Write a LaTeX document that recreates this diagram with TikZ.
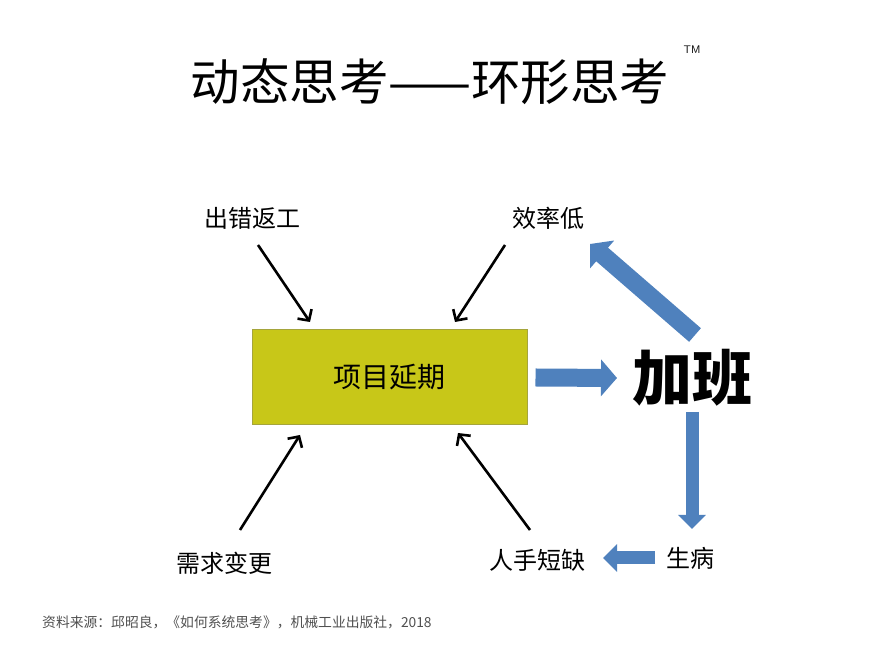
\documentclass[tikz,border=0pt]{standalone}
\usepackage{fontspec}
\newfontfamily\cjk{Noto Sans CJK SC}
\setmainfont{Noto Sans CJK SC}
\usetikzlibrary{arrows.meta}
\definecolor{boxfill}{RGB}{200,199,24}
\definecolor{boxline}{RGB}{165,165,60}
\definecolor{flowblue}{RGB}{79,129,189}
\definecolor{footgray}{RGB}{80,80,80}
\tikzset{
  lbl/.style={inner sep=0pt, font=\cjk\fontsize{24}{26}\selectfont},
  cause/.style={line width=2.6pt, -{Straight Barb[length=8pt,width=17pt]}},
  bigflow/.style={line width=18pt, flowblue, -{Triangle[width=36pt,length=16pt]}},
  smallflow/.style={line width=13pt, flowblue, -{Triangle[width=27pt,length=14pt]}},
}
\begin{document}
\begin{tikzpicture}[x=1pt,y=1pt]
\useasboundingbox[fill=white] (0,0) rectangle (869,652);
% title
\node[inner sep=0pt, font=\cjk\fontsize{49.5}{52}\selectfont] (title) at (430,570) {动态思考——环形思考};
\node[inner sep=0pt, font=\sffamily\fontsize{11}{12}\selectfont] (tm) at (692,602) {TM};
% central box
\node[draw=boxline, fill=boxfill, line width=1pt, minimum width=275pt, minimum height=95pt,
      font=\cjk\fontsize{28}{30}\selectfont] (box) at (389.5,274.5) {项目延期};
% labels
\node[lbl] (cuo) at (252,434) {出错返工};
\node[lbl] (xiao) at (548,434) {效率低};
\node[lbl] (xu) at (224,89) {需求变更};
\node[lbl] (ren) at (537,92) {人手短缺};
\node[lbl] (bing) at (690,94) {生病};
\node[inner sep=0pt, font=\cjk\bfseries\fontsize{60}{62}\selectfont] (jia) at (692,274) {加班};
% black cause arrows
\draw[cause] ([shift={(6,-27)}]cuo.center) -- ([shift={(-79.5,55.5)}]box.center);
\draw[cause] ([shift={(-43,-27)}]xiao.center) -- ([shift={(65.5,55.5)}]box.center);
\draw[cause] ([shift={(16,33)}]xu.center) -- ([shift={(-89.5,-57.5)}]box.center);
\draw[cause] ([shift={(-7,30)}]ren.center) -- ([shift={(68.5,-55.5)}]box.center);
% blue flow arrows
\draw[bigflow] ([xshift=8pt]box.east) -- ([shift={(-75,0)}]jia.center);
\draw[bigflow] ([shift={(3,43)}]jia.center) -- ([shift={(42,-26)}]xiao.center);
\draw[smallflow] ([shift={(0,-34)}]jia.center) -- ([shift={(2,29)}]bing.center);
\draw[smallflow] ([shift={(-35,0)}]bing.center) -- ([shift={(66,2)}]ren.center);
% footer
\node[anchor=west, inner sep=0pt, text=footgray, font=\cjk\fontsize{13.8}{15}\selectfont] (foot) at (42,30) {资料来源：邱昭良，《如何系统思考》，机械工业出版社，2018};
\end{tikzpicture}
\end{document}
